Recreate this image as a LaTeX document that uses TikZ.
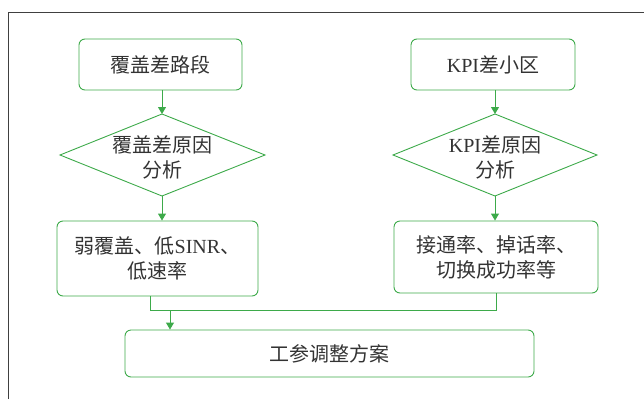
\documentclass[tikz,border=0pt]{standalone}
\usepackage{fontspec}
\setmainfont{Liberation Serif}
\newfontfamily\cjk{Noto Sans CJK SC}
\newcommand\zh[1]{{\cjk #1}}
\usetikzlibrary{shapes.geometric,arrows.meta}
\definecolor{fg}{HTML}{3DAA4A}
\definecolor{tx}{HTML}{333333}
\tikzset{
  box/.style={draw=fg, line width=0.9pt, rounded corners=6pt, inner sep=0pt, text=tx, align=center, font=\fontsize{20}{25}\selectfont},
  lbl/.style={text=tx, align=center, font=\fontsize{20}{25}\selectfont},
  arr/.style={draw=fg, line width=0.9pt, -{Triangle[length=7pt,width=8pt]}},
  ln/.style={draw=fg, line width=0.9pt}
}
\begin{document}
\begin{tikzpicture}[x=1pt,y=-1pt]
\useasboundingbox (0,0) rectangle (644,399);
\draw[line width=0.8pt, draw=black!75] (8,399) -- (8,12) -- (644,12);
% boxes
\node[box, minimum width=163pt, minimum height=51pt] (b1) at (160.5,64.5) {\zh{覆盖差路段}};
\node[box, minimum width=164pt, minimum height=51pt] (b2) at (493,64.5) {KPI\zh{差小区}};
\node[box, minimum width=201pt, minimum height=75pt] (b3) at (157.5,258.5) {\zh{弱覆盖、低}SINR\zh{、}\\\zh{低速率}};
\node[box, minimum width=204pt, minimum height=72pt] (b4) at (496,257) {\zh{接通率、掉话率、}\\\zh{切换成功率等}};
\node[box, minimum width=409pt, minimum height=47pt] (b5) at (329.5,353.5) {\zh{工参调整方案}};
% diamonds
\draw[ln] (60,155) -- (162,114) -- (265,155) -- (162,196) -- cycle;
\node[lbl] (d1) at (162,157) {\zh{覆盖差原因}\\\zh{分析}};
\coordinate (d1t) at (162,114);
\coordinate (d1b) at (162,196);
\draw[ln] (393,155) -- (495,114) -- (597,155) -- (495,196) -- cycle;
\node[lbl] (d2) at (495,157) {KPI\zh{差原因}\\\zh{分析}};
\coordinate (d2t) at (495,114);
\coordinate (d2b) at (495,196);
% arrows
\draw[arr] (b1.south -| d1t) -- (d1t);
\draw[arr] (b2.south -| d2t) -- (d2t);
\draw[arr] (d1b) -- (b3.north -| d1b);
\draw[arr] (d2b) -- (b4.north -| d2b);
\coordinate (j1) at (150,310);
\coordinate (j2) at (496,310);
\draw[ln] (b3.south -| j1) -- (j1) -- (j2) -- (b4.south -| j2);
\coordinate (j3) at (170,310);
\draw[arr] (j3) -- (b5.north -| j3);
\end{tikzpicture}
\end{document}
